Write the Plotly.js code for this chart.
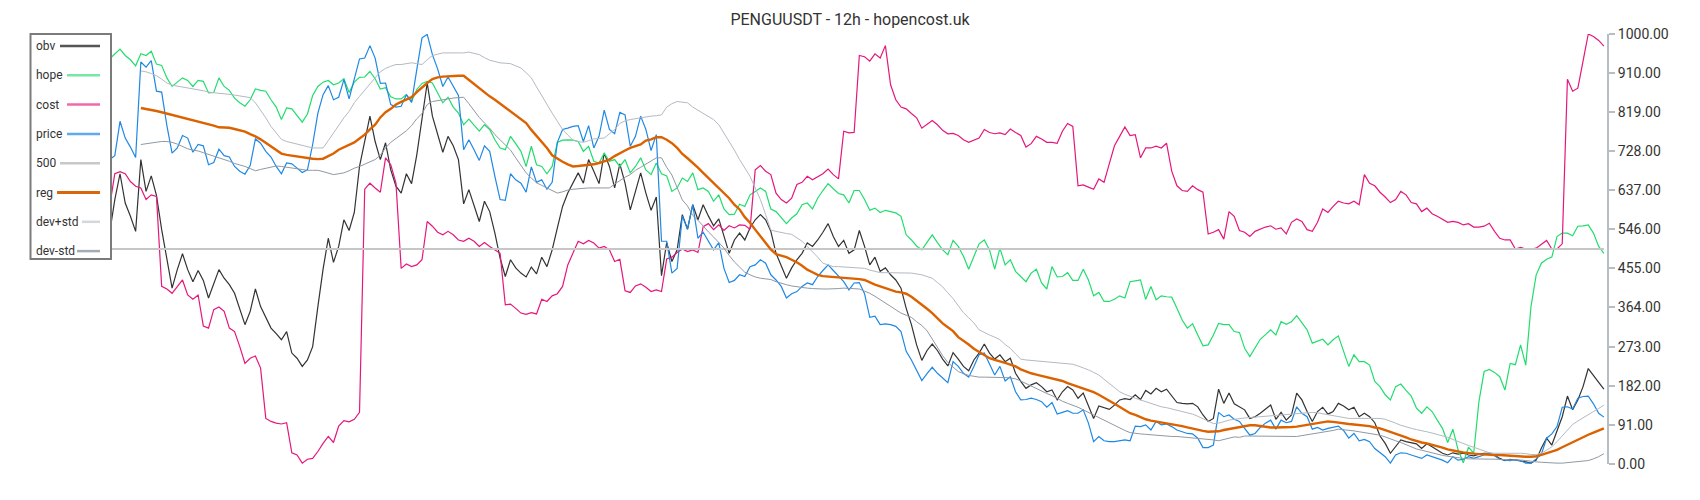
<!DOCTYPE html>
<html><head><meta charset="utf-8">
<script src="https://cdn.plot.ly/plotly-3.0.1.min.js"></script>
<style>html,body{margin:0;padding:0;background:#fff;}#chart{width:1700px;height:500px;}</style>
</head><body><div id="chart"></div>
<script>
const chartTitle = "PENGUUSDT - 12h - hopencost.uk";
const seriesNames = ["obv","hope","cost","price","500","reg","dev+std","dev-std"];

const hope = [
942,954,965,950,940,926,954,950,960,930,
927,898,878,888,898,892,878,892,890,863,
864,898,878,869,851,840,832,847,872,869,
867,847,830,801,828,826,809,795,814,857,
878,888,892,882,886,896,864,888,899,900,
913,896,872,875,854,849,849,859,843,871,
885,890,886,864,840,853,830,816,789,802,
787,774,789,778,754,735,731,762,745,727,
692,739,696,692,675,692,748,753,754,753,
750,727,739,704,700,723,704,708,692,708,
677,692,712,684,673,700,675,670,634,642,
665,657,677,638,642,634,611,626,593,580,
581,604,599,626,634,642,634,593,587,572,
559,572,582,603,607,593,618,636,652,640,
629,626,607,636,636,615,590,595,585,590,
587,584,576,533,521,507,498,515,533,515,
498,487,520,506,483,453,483,512,521,498,
453,502,463,475,448,436,424,444,453,421,
407,459,435,436,445,427,427,453,428,391,
399,378,378,383,391,386,424,426,428,383,
413,382,391,389,388,362,335,316,326,300,
275,277,300,327,324,324,308,306,269,250,
269,290,301,312,300,331,325,331,345,329,
312,281,286,290,277,289,298,265,227,254,
238,238,230,192,180,161,149,180,186,171,
158,130,118,133,122,102,83,50,81,33,
3,39,25,145,215,220,213,203,172,234,
231,277,230,366,440,467,476,481,529,537,
537,531,553,554,556,537,506,490];

const price = [
708,717,797,758,737,713,935,923,938,867,
865,787,723,735,764,758,725,743,740,696,
701,732,717,714,692,681,674,694,756,746,
727,714,692,675,700,698,688,678,684,743,
816,859,880,847,853,894,849,898,942,944,
973,944,885,886,836,830,832,859,841,917,
991,999,952,919,878,900,878,857,731,754,
731,706,740,727,669,615,613,675,661,653,
632,691,655,661,639,655,748,778,781,785,
787,750,787,735,762,823,778,768,818,812,
739,762,809,778,729,766,518,518,444,455,
577,546,603,525,539,520,498,515,455,422,
427,440,436,459,463,475,467,440,428,413,
386,396,401,413,421,417,436,450,463,450,
438,424,405,421,422,396,341,344,324,326,
324,320,308,262,242,219,194,210,225,211,
199,189,238,227,211,202,227,254,258,234,
207,227,193,203,168,149,150,153,150,145,
132,143,116,120,124,118,118,126,95,52,
64,54,52,52,54,56,54,88,87,91,
79,99,91,93,87,79,75,71,70,60,
38,38,44,120,110,114,104,99,83,67,
71,85,95,102,81,102,96,99,133,118,
110,81,85,79,83,85,88,78,60,71,
54,57,52,36,26,17,2,21,26,25,
21,17,13,21,17,13,9,3,17,9,
11,17,13,17,21,26,19,11,9,8,
10,8,2,2,12,23,60,70,87,132,
133,128,153,157,158,140,118,109];

const cost = [
599,675,680,675,657,646,642,615,626,622,
413,407,397,413,428,393,383,393,321,316,
359,365,355,316,308,273,234,246,251,223,
106,99,95,93,96,26,21,2,11,13,
29,48,64,50,88,101,98,104,120,639,
653,642,632,712,696,653,455,465,459,463,
475,564,553,539,533,541,533,521,518,525,
518,506,515,506,498,490,370,372,362,351,
348,352,349,383,378,391,396,413,463,490,
518,512,520,514,502,506,498,471,476,403,
399,414,419,411,401,405,401,477,481,492,
500,494,498,492,552,559,545,556,543,554,
549,556,555,546,684,694,681,673,630,615,
607,618,650,655,669,661,669,675,686,673,
663,774,770,771,950,947,937,954,944,973,
882,847,830,826,815,805,781,791,799,789,
776,768,769,764,754,748,753,758,778,771,
768,770,766,779,771,764,737,745,762,756,
748,748,746,774,792,785,647,649,644,639,
663,655,698,740,762,784,764,766,712,735,
735,739,735,746,681,647,636,634,647,638,
632,535,539,545,523,587,576,543,539,529,
541,546,551,554,546,549,535,562,570,564,
545,541,562,593,585,599,611,607,605,611,
603,673,653,647,632,621,608,615,634,626,
608,605,587,595,582,576,568,562,564,562,
556,559,551,551,553,560,541,525,521,521,
500,504,500,500,502,512,520,500,500,512,
895,867,874,937,1000,994,985,972];

const obv = [
537,615,675,607,576,541,708,634,670,625,
545,475,409,452,489,452,424,450,427,386,
421,452,432,417,397,362,324,355,407,366,
339,316,303,289,308,258,246,227,242,273,
366,453,525,469,506,568,543,585,692,753,
809,750,708,747,684,646,630,675,652,719,
809,886,809,766,725,762,740,708,605,638,
603,564,611,587,537,479,436,475,456,444,
435,458,442,481,459,498,549,599,630,653,
677,653,708,681,652,723,692,642,698,653,
591,634,677,630,590,621,438,515,471,498,
580,546,603,568,603,577,554,570,529,490,
521,537,521,549,568,580,568,541,490,459,
432,456,475,490,514,506,521,539,559,529,
506,520,490,498,543,506,463,481,448,456,
440,428,409,362,324,277,241,264,279,264,
244,228,259,244,227,217,242,258,279,258,
244,254,238,246,211,192,176,184,189,180,
168,172,149,168,180,172,153,165,137,106,
135,131,127,137,149,152,150,161,150,171,
163,176,168,174,158,143,141,140,141,133,
114,99,106,174,141,165,140,133,126,106,
110,118,127,137,104,120,102,114,165,149,
122,99,122,132,116,122,141,135,126,132,
110,118,110,96,65,48,25,40,56,52,
50,47,36,47,40,33,25,21,26,23,
25,21,19,23,25,25,21,13,8,11,
9,8,5,2,9,37,60,44,75,110,
158,126,149,180,222,205,190,174];

const reg = [
null,null,null,null,null,null,828,826,824,821,
818,815,812,809,805,802,799,797,794,791,
787,783,782,782,779,776,773,767,762,755,
747,739,729,722,719,717,715,713,711,710,
709,710,716,722,731,737,742,748,757,766,
778,789,806,818,826,836,842,847,853,865,
876,886,895,899,901,902,903,903,903,893,
883,874,864,855,847,838,830,820,811,802,
793,777,763,749,735,718,710,703,697,692,
693,694,695,697,700,704,708,716,723,729,
735,739,743,752,755,760,760,754,746,735,
721,711,701,689,677,665,653,641,629,618,
603,592,574,561,545,529,513,499,488,485,
481,475,469,461,452,446,440,437,436,435,
435,434,433,432,430,428,422,417,413,409,
405,401,399,396,389,380,372,361,351,339,
327,318,309,295,287,278,268,260,252,246,
242,239,235,231,227,220,215,211,208,205,
203,199,196,193,188,184,179,176,172,167,
161,153,147,140,132,126,118,114,109,104,
101,99,97,95,93,91,88,85,82,79,
77,75,75,76,79,81,84,85,88,90,
90,88,87,85,85,85,85,86,87,89,
92,94,95,97,99,98,96,94,93,92,
91,89,88,85,83,79,75,71,67,62,
57,53,50,48,45,41,38,34,31,29,
27,25,24,23,22,21,21,21,20,19,
18,17,17,17,18,21,25,29,33,39,
45,51,57,63,68,73,78,83];

const devPlus = [
null,null,null,null,null,null,914,912,908,903,
895,886,881,879,877,874,872,870,868,865,
863,862,861,860,858,856,854,852,840,823,
805,785,770,755,750,747,745,742,738,735,
735,735,752,770,790,805,820,840,855,870,
885,898,912,920,925,929,929,931,933,931,
929,940,950,953,956,956,956,956,956,958,
955,952,945,939,936,933,932,931,926,921,
910,898,877,856,836,816,797,778,765,753,
750,748,752,756,757,758,768,778,792,798,
801,803,806,808,809,810,812,830,838,843,
842,840,830,823,816,808,801,789,770,752,
730,708,688,669,642,615,580,544,541,538,
536,534,526,518,506,494,481,467,463,459,
459,458,458,457,456,455,451,448,445,445,
445,444,444,444,444,442,440,436,432,422,
412,398,385,368,352,340,328,312,305,300,
295,289,278,269,256,244,242,241,240,239,
238,237,236,235,234,232,228,224,219,213,
207,197,188,177,168,162,157,153,149,145,
141,137,133,131,128,125,122,119,116,111,
105,99,94,95,99,102,104,106,107,108,
109,110,111,112,113,114,115,116,118,119,
120,120,119,117,114,112,110,108,106,106,
106,106,106,106,106,104,100,95,90,86,
83,80,78,75,72,69,65,62,57,52,
47,43,39,35,30,26,25,25,25,25,
26,25,24,22,22,25,32,40,52,66,
78,92,100,108,114,122,129,137];

const devMinus = [
null,null,null,null,null,null,743,745,747,749,
750,750,748,744,738,733,730,728,724,720,
717,713,709,704,699,696,692,687,682,685,
688,690,693,692,690,688,686,684,683,683,
683,680,676,673,675,677,682,688,692,697,
702,708,718,735,748,757,764,775,787,803,
815,836,843,845,848,850,851,852,853,838,
822,806,793,781,766,754,742,730,712,695,
677,665,654,648,642,635,630,633,637,639,
640,642,642,642,642,642,642,651,660,667,
673,683,690,697,704,712,712,690,672,645,
614,600,578,567,553,540,528,516,502,485,
470,458,446,440,435,432,431,429,424,420,
417,414,412,410,409,408,407,407,407,407,
408,409,408,408,407,402,397,390,382,375,
368,360,351,346,341,331,322,310,291,270,
252,236,225,215,210,206,204,202,202,202,
202,202,201,200,198,193,187,181,175,170,
164,159,152,146,141,137,132,126,120,114,
107,101,95,89,83,78,73,71,70,69,
68,67,65,65,64,64,63,62,61,60,
59,57,56,54,57,60,63,62,65,65,
65,64,64,64,64,64,64,64,64,66,
68,70,71,73,75,78,81,80,78,77,
75,73,71,69,67,63,58,54,50,45,
40,35,32,29,26,22,20,18,16,14,
13,12,12,11,11,11,11,11,10,10,
9,9,8,6,5,4,3,2,2,2,
3,4,5,6,8,12,17,24];

const level500 = 500;
const yTickVals = [0,91,182,273,364,455,546,637,728,819,910,1000];
const yTickText = ["0.00","91.00","182.00","273.00","364.00","455.00","546.00","637.00","728.00","819.00","910.00","1000.00"];

// ---- styles ----
const N = obv.length;
[hope,price,cost,reg,devPlus,devMinus].forEach((a,k)=>{ if(a.length!==N) throw new Error("length mismatch "+k+": "+a.length+" vs "+N); });
const idx = Array.from({length:N},(_,i)=>i);
const colors = {obv:"#333333", hope:"#22dd6e", cost:"#e5177d", price:"#1e88e5", l500:"#c6c6c6", reg:"#dc6200", dplus:"#b3bac1", dminus:"#8f99a3"};
const legendColors = ["#555555","#74e8a4","#ee6aa8","#5fa9ee","#c8c8c8","#d9660a","#d3d8dc","#a3abb3"];
const legendWidths = [2.5,2.5,2.5,2.5,2.5,3,2.5,2.5];
const legendLineStart = [60,67,67,67,60,57,82,77];

const traces = [
  {x:idx, y:obv, mode:"lines", line:{color:colors.obv, width:1.2}},
  {x:idx, y:hope, mode:"lines", line:{color:colors.hope, width:1.2}},
  {x:idx, y:cost, mode:"lines", line:{color:colors.cost, width:1.2}},
  {x:idx, y:price, mode:"lines", line:{color:colors.price, width:1.2}},
  {x:[idx[0], idx[N-1]], y:[level500, level500], mode:"lines", line:{color:colors.l500, width:2}},
  {x:idx, y:reg, mode:"lines", line:{color:colors.reg, width:2.4}},
  {x:idx, y:devPlus, mode:"lines", line:{color:colors.dplus, width:1}},
  {x:idx, y:devMinus, mode:"lines", line:{color:colors.dminus, width:1}}
].map((t,i)=>Object.assign(t,{name:seriesNames[i], hoverinfo:"skip", showlegend:false}));

const W=1700, H=500, ML=112, MR=93, MT=34, MB=36;
const pw = W-ML-MR, ph = H-MT-MB;
const px = v => (v-ML)/pw;
const py = v => (H-MB-v)/ph;

const shapes = [{type:"rect", xref:"paper", yref:"paper", x0:px(30.5), x1:px(111), y0:py(259), y1:py(34),
  line:{color:"#7b7b7b", width:2}, fillcolor:"#ffffff", layer:"above"}];
const annotations = [];
seriesNames.forEach((nm,k)=>{
  const yc = 46 + 29.3*k;
  annotations.push({xref:"paper", yref:"paper", x:px(34), y:py(yc), xanchor:"left", yanchor:"middle",
    text:nm, showarrow:false, font:{family:"Roboto", size:12, color:"#333"}});
  shapes.push({type:"line", xref:"paper", yref:"paper", x0:px(legendLineStart[k]), x1:px(100), y0:py(yc), y1:py(yc),
    line:{color:legendColors[k], width:legendWidths[k]}, layer:"above"});
});

const layout = {
  width:W, height:H, paper_bgcolor:"#fff", plot_bgcolor:"#fff",
  margin:{l:ML, r:MR, t:MT, b:MB, pad:0},
  title:{text:chartTitle, x:0.5, xref:"container", xanchor:"center", y:1-19.5/H, yref:"container", yanchor:"middle",
    font:{family:"Roboto", size:16, color:"#333"}},
  showlegend:false,
  xaxis:{range:[0.46, 287.6], visible:false, showgrid:false, zeroline:false, fixedrange:true},
  yaxis:{side:"right", range:[0,1000], tickvals:yTickVals, ticktext:yTickText, showgrid:false, zeroline:false,
    showline:true, linecolor:"#b6bec5", linewidth:2, ticks:"outside", ticklen:6, tickwidth:2, tickcolor:"#b6bec5",
    tickfont:{family:"Roboto", size:14, color:"#333"}, automargin:false, fixedrange:true},
  shapes:shapes, annotations:annotations
};
Plotly.newPlot("chart", traces, layout, {staticPlot:true, displayModeBar:false});
</script></body></html>
